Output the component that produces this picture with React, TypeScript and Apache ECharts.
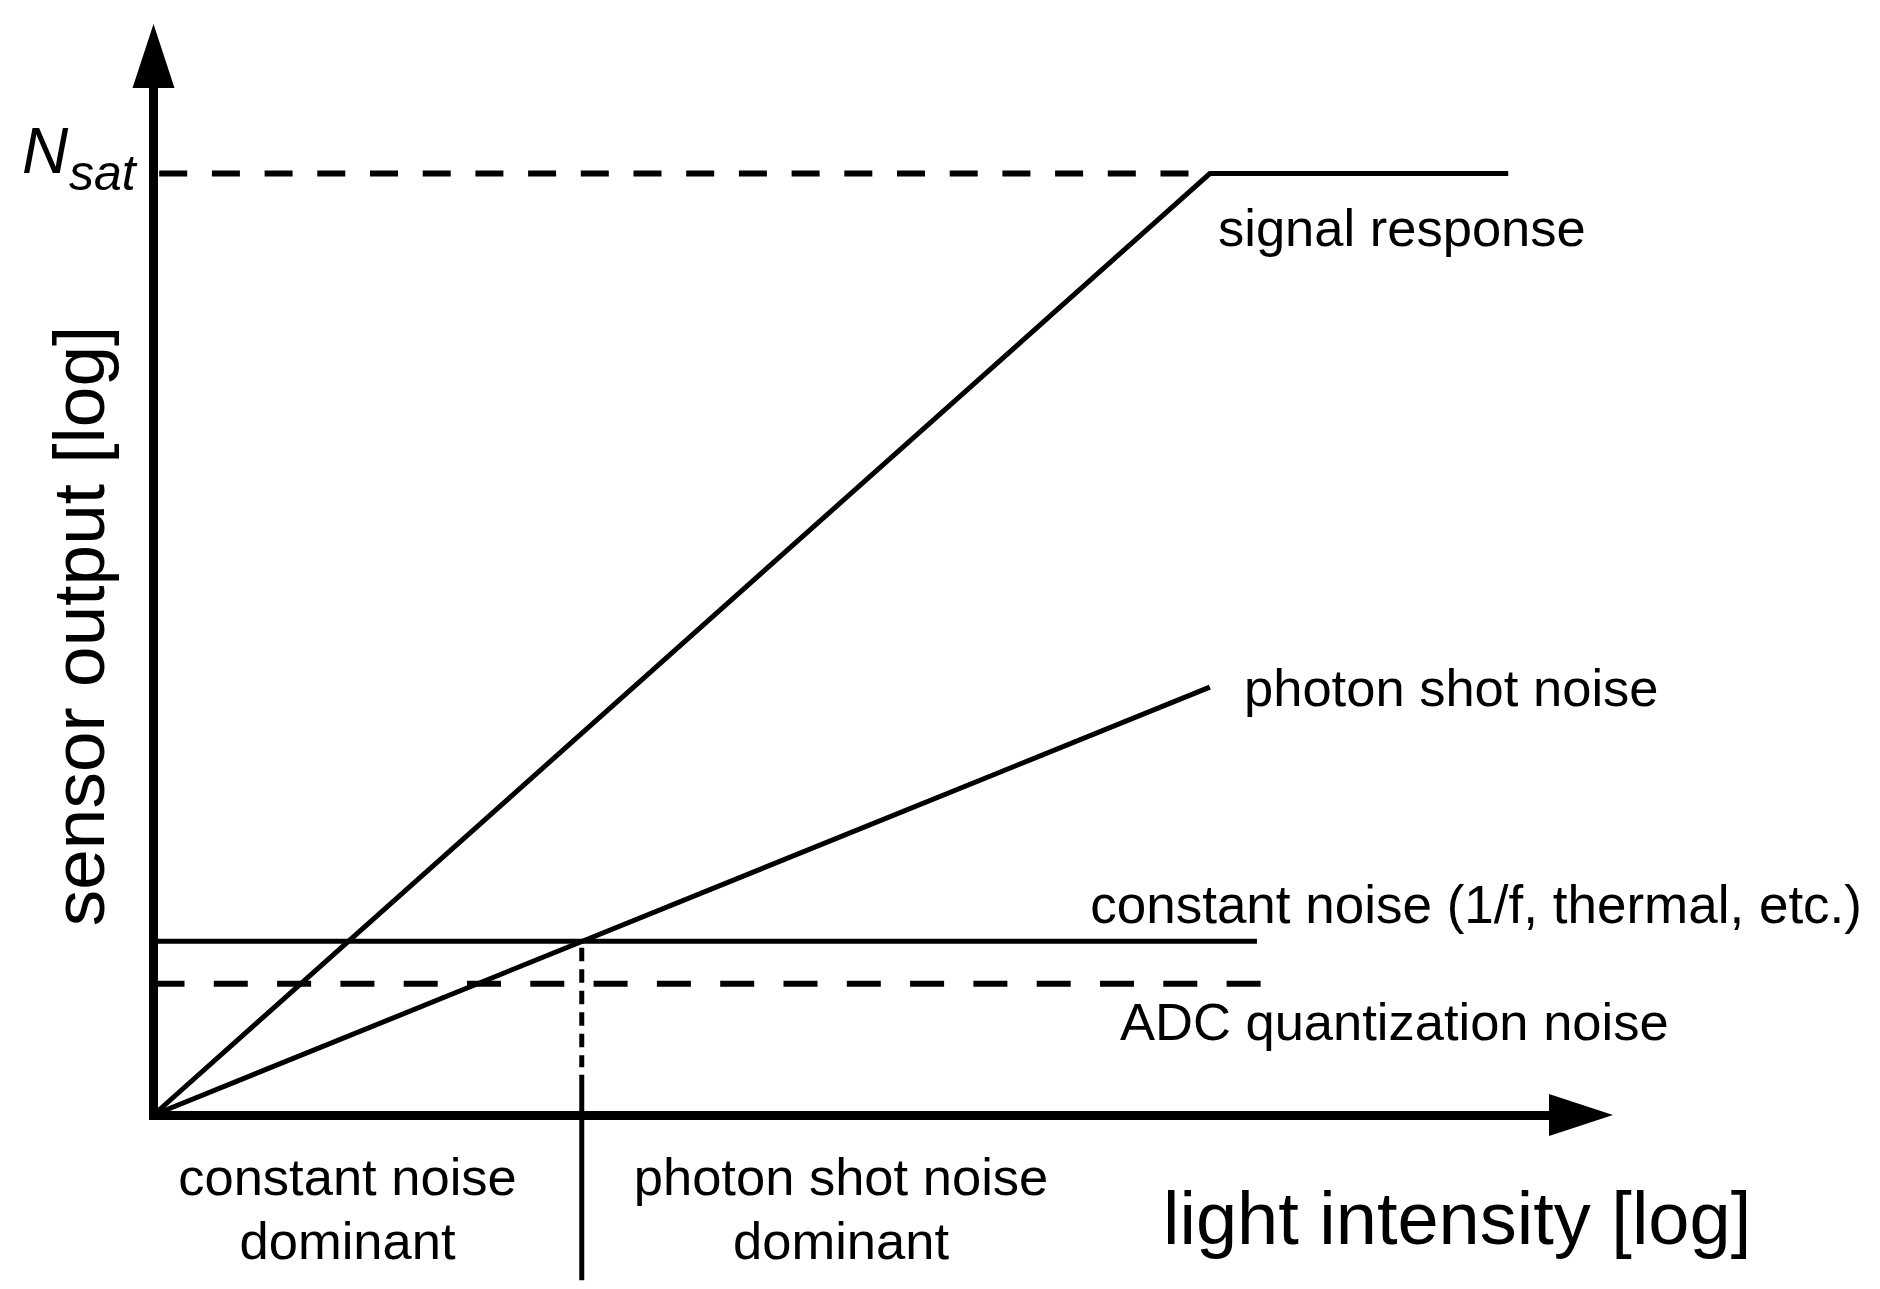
import React, { useEffect, useRef } from "react";
import * as echarts from "echarts";

// Data in arbitrary log units (x: light intensity, y: sensor output), 0..100 on each axis
const signalResponse = [[0, 0], [74, 88.9], [94.9, 88.9]];
const saturationLevel = [[0, 88.9], [74, 88.9]];
const photonShotNoise = [[0, 0], [74, 40.4]];
const constantNoise = [[0, 16.4], [77.3, 16.4]];
const adcNoise = [[0, 12.4], [77.6, 12.4]];
const crossoverDashed = [[30, 16.4], [30, 4.5]];
const crossoverSolid = [[30, 3.8], [30, -15.6]];

const xAxisTitle = "light intensity [log]";
const yAxisTitle = "sensor output [log]";
const satSymbol = "N";
const satSub = "sat";
const curveLabels = [
  "signal response",
  "photon shot noise",
  "constant noise (1/f, thermal, etc.)",
  "ADC quantization noise",
];
const regionLabels = [
  ["constant noise", "dominant"],
  ["photon shot noise", "dominant"],
];

const FONT = "'Liberation Sans', Arial, Helvetica, sans-serif";

function lineSeries(name: string, data: number[][], width: number, type: any, dashOffset = 0) {
  return {
    type: "line",
    name,
    data,
    symbol: "none",
    clip: false,
    silent: true,
    z: 3,
    lineStyle: { color: "#000", width, type, dashOffset, cap: "butt", join: "miter" },
  };
}

function txt(text: string, x: number, y: number, size: number, align: string, extra: any = {}) {
  return {
    type: "text",
    x,
    y,
    silent: true,
    z: 10,
    ...extra,
    style: {
      text,
      x: 0,
      y: 0,
      fill: "#000",
      fontSize: size,
      fontFamily: FONT,
      fontStyle: extra.italic ? "italic" : "normal",
      align,
      verticalAlign: "middle",
      textAlign: align,
      textVerticalAlign: "middle",
    },
  };
}

export default function App() {
  const ref = useRef<HTMLDivElement>(null);
  useEffect(() => {
    if (!ref.current) return;
    const chart = echarts.init(ref.current, undefined, { renderer: "svg" });
    const axisCommon = {
      type: "value",
      min: 0,
      max: 100,
      axisTick: { show: false },
      axisLabel: { show: false },
      splitLine: { show: false },
      axisLine: {
        show: true,
        onZero: false,
        symbol: ["none", "triangle"],
        symbolSize: [42, 64],
        lineStyle: { color: "#000", width: 9, cap: "square" },
      },
    };
    chart.setOption({
      animation: false,
      backgroundColor: "#fff",
      grid: { left: 153.5, right: 299, top: 56, bottom: 174 },
      xAxis: { ...axisCommon },
      yAxis: { ...axisCommon },
      series: [
        lineSeries("signal response", signalResponse, 5, "solid"),
        lineSeries("saturation", saturationLevel, 6, [28, 24.7], 47),
        lineSeries("photon shot noise", photonShotNoise, 5, "solid"),
        lineSeries("constant noise", constantNoise, 5, "solid"),
        lineSeries("ADC quantization noise", adcNoise, 6, [34, 29.3], 2.8),
        lineSeries("crossover", crossoverDashed, 5, [13.5, 8], 14.5),
        lineSeries("crossover solid", crossoverSolid, 5, "solid"),
      ],
      graphic: [
        txt(satSymbol, 22, 151, 64, "left", { italic: true }),
        txt(satSub, 69, 173, 50, "left", { italic: true }),
        txt(curveLabels[0], 1218, 227, 52.5, "left"),
        txt(curveLabels[1], 1244, 687, 52.5, "left"),
        txt(curveLabels[2], 1862, 904, 53, "right"),
        txt(curveLabels[3], 1120, 1021, 52.5, "left"),
        txt(regionLabels[0][0], 347.5, 1176, 52.5, "center"),
        txt(regionLabels[0][1], 347.5, 1240, 52.5, "center"),
        txt(regionLabels[1][0], 841, 1176, 52.5, "center"),
        txt(regionLabels[1][1], 841, 1240, 52.5, "center"),
        txt(xAxisTitle, 1163, 1218, 74, "left"),
        txt(yAxisTitle, 78, 626, 73, "center", { rotation: Math.PI / 2 }),
      ],
    });
    return () => chart.dispose();
  }, []);
  return (
    <div
      ref={ref}
      style={{ position: "absolute", left: 0, top: 0, width: 1880, height: 1289, background: "#fff" }}
    />
  );
}
